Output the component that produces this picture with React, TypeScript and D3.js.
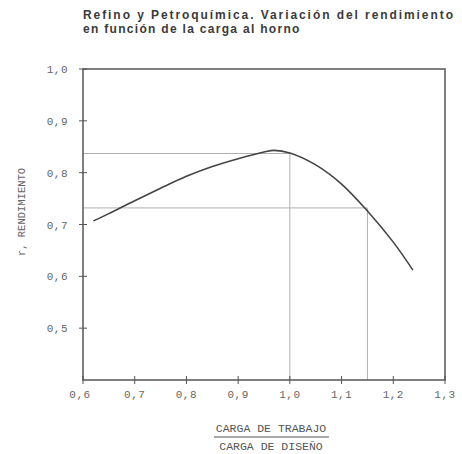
import React from "react";
import * as d3 from "d3";

// carga de trabajo / carga de diseño  vs  rendimiento
const loadRatio = [0.62, 0.65, 0.7, 0.75, 0.8, 0.85, 0.9, 0.95, 0.97, 1.0, 1.05, 1.1, 1.15, 1.2, 1.238];
const efficiency = [0.707, 0.721, 0.746, 0.77, 0.793, 0.812, 0.827, 0.84, 0.843, 0.838, 0.815, 0.778, 0.726, 0.666, 0.612];

// guide lines read on the curve
const guideX = [1.0, 1.15];
const guideY = [0.837, 0.732];

const xTicks = [0.6, 0.7, 0.8, 0.9, 1.0, 1.1, 1.2, 1.3];
const yTicks = [0.5, 0.6, 0.7, 0.8, 0.9, 1.0];

const W = 462;
const H = 454;

const fmt = (v: number) => v.toFixed(1).replace(".", ",");

export default function App() {
  const x = d3.scaleLinear().domain([0.6, 1.3]).range([83, 445]);
  const y = d3.scaleLinear().domain([0.4, 1.0]).range([380, 69]);

  const pts: [number, number][] = loadRatio.map((v, i) => [v, efficiency[i]]);
  const line = d3
    .line<[number, number]>()
    .x((d) => x(d[0]))
    .y((d) => y(d[1]))
    .curve(d3.curveCatmullRom);

  const mono = "'Liberation Mono', 'DejaVu Sans Mono', monospace";
  const ink = "#555";

  return (
    <div style={{ position: "absolute", left: 0, top: 0 }}>
      <svg width={W} height={H} style={{ display: "block", background: "#fff" }}>
        {/* title */}
        <g fontFamily="'Liberation Sans', Arial, sans-serif" fontWeight="bold" fontSize={12} fill="#3a3a3a">
          <text x={83} y={19} textLength={370} lengthAdjust="spacing">
            Refino y Petroquímica. Variación del rendimiento
          </text>
          <text x={83} y={33} letterSpacing={1.3}>
            en función de la carga al horno
          </text>
        </g>

        {/* guide lines */}
        {guideX.map((gx, i) => (
          <g key={i} stroke="#b0b0b0" strokeWidth={1} fill="none">
            <line x1={x(0.6)} x2={x(gx)} y1={y(guideY[i])} y2={y(guideY[i])} />
            <line x1={x(gx)} x2={x(gx)} y1={y(guideY[i])} y2={y(0.4)} />
          </g>
        ))}

        {/* frame */}
        <rect
          x={x(0.6)}
          y={y(1.0)}
          width={x(1.3) - x(0.6)}
          height={y(0.4) - y(1.0)}
          fill="none"
          stroke={ink}
          strokeWidth={1.5}
        />

        {/* ticks */}
        {yTicks.map((t) => (
          <g key={"y" + t}>
            <line x1={x(0.6) - 4} x2={x(0.6) + 4} y1={y(t)} y2={y(t)} stroke={ink} strokeWidth={1} />
            <text x={68} y={y(t) + 4} textAnchor="end" fontFamily={mono} fontSize={11} letterSpacing={0.5} fill="#666">
              {fmt(t)}
            </text>
          </g>
        ))}
        {xTicks.map((t) => (
          <g key={"x" + t}>
            <line x1={x(t)} x2={x(t)} y1={y(0.4) - 4} y2={y(0.4) + 4} stroke={ink} strokeWidth={1} />
            <text x={t === 0.6 ? x(t) - 3 : x(t)} y={398} textAnchor="middle" fontFamily={mono} fontSize={11} letterSpacing={0.5} fill="#666">
              {fmt(t)}
            </text>
          </g>
        ))}

        {/* curve */}
        <path d={line(pts) || ""} fill="none" stroke="#444" strokeWidth={1.6} />

        {/* axis titles */}
        <text
          transform={`translate(25,212) rotate(-90)`}
          textAnchor="middle"
          fontFamily={mono}
          fontSize={10.5}
          fill="#666"
        >
          r, RENDIMIENTO
        </text>
        <g fontFamily={mono} fontSize={11.5} fill="#555" textAnchor="middle">
          <text x={271} y={432}>CARGA DE TRABAJO</text>
          <line x1={214} x2={329} y1={437} y2={437} stroke="#555" strokeWidth={1} />
          <text x={271} y={450}>CARGA DE DISEÑO</text>
        </g>
      </svg>
    </div>
  );
}
